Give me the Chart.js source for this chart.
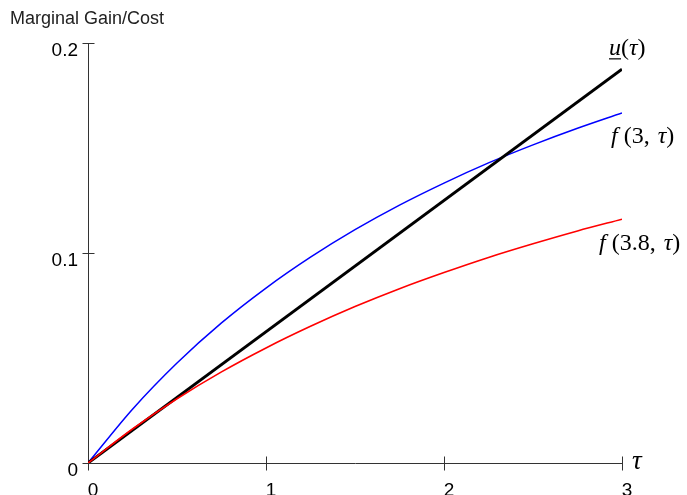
<!DOCTYPE html>
<html>
<head>
<meta charset="utf-8">
<script src="https://cdn.jsdelivr.net/npm/chart.js@4.4.1/dist/chart.umd.min.js"></script>
<style>
  html, body { margin: 0; padding: 0; background: #fff; }
</style>
</head>
<body>
<canvas id="c" width="687" height="495"></canvas>
<script>
// values
const taus = [0, 0.25, 0.5, 0.75, 1, 1.25, 1.5, 1.75, 2, 2.25, 2.5, 2.75, 3];
const gainA3 = [0, 0.0256, 0.0476, 0.0667, 0.0833, 0.0980, 0.1111, 0.1228, 0.1333, 0.1429, 0.1515, 0.1594, 0.1667];
const gainA38 = [0, 0.0162, 0.0306, 0.0434, 0.0548, 0.0651, 0.0745, 0.0830, 0.0907, 0.0979, 0.1044, 0.1105, 0.1161];
const costTaus = [0, 3];
const cost = [0, 0.1875];
const xTicks = [0, 1, 2, 3];
const yTicks = [0, 0.1, 0.2];

const pts = (xs, ys) => xs.map((x, i) => ({x: x, y: ys[i]}));

const axesPlugin = {
    id: 'axes',
    beforeDatasetsDraw(chart) {
        const ctx = chart.ctx;
        const xs = chart.scales.x, ys = chart.scales.y;
        const x0 = Math.round(xs.getPixelForValue(0)) + 0.5;
        const y0 = Math.round(ys.getPixelForValue(0)) + 0.5;
        const x1 = Math.round(xs.getPixelForValue(3)) + 0.5;
        const yTop = Math.round(ys.getPixelForValue(0.2)) + 0.5;
        ctx.save();
        ctx.strokeStyle = '#333';
        ctx.lineWidth = 1;
        ctx.beginPath();
        ctx.moveTo(x0, yTop); ctx.lineTo(x0, y0); ctx.lineTo(x1, y0);
        yTicks.forEach(v => {
            const y = Math.round(ys.getPixelForValue(v)) + 0.5;
            ctx.moveTo(x0 - 6, y); ctx.lineTo(x0 + 6, y);
        });
        xTicks.forEach(v => {
            const x = Math.round(xs.getPixelForValue(v)) + 0.5;
            ctx.moveTo(x, y0 - 7); ctx.lineTo(x, y0 + 7);
        });
        ctx.stroke();
        ctx.restore();
    },
    afterDatasetsDraw(chart) {
        const ctx = chart.ctx;
        const xs = chart.scales.x, ys = chart.scales.y;
        const xEnd = xs.getPixelForValue(3);
        ctx.save();
        ctx.fillStyle = '#222';
        ctx.font = '18px "Liberation Sans", Arial, sans-serif';
        ctx.textBaseline = 'middle';
        ctx.textAlign = 'left';
        ctx.fillText('Marginal Gain/Cost', 10, 19);

        ctx.fillStyle = '#000';
        ctx.textBaseline = 'alphabetic';
        const it = 'italic 24px "Liberation Serif", serif';
        const up = '24px "Liberation Serif", serif';
        // draws a run of [text, font, extra gap] pieces starting at x
        const run = (x, y, parts) => {
            parts.forEach(p => {
                ctx.font = p[1];
                ctx.fillText(p[0], x, y);
                x += ctx.measureText(p[0]).width + (p[2] || 0);
            });
        };
        // u(tau) with underlined u
        const uy = ys.getPixelForValue(cost[1]) - 14;
        const ux = xEnd - 13;
        ctx.font = it;
        const uw = ctx.measureText('u').width;
        run(ux, uy, [['u', it], ['(', up], ['τ', it], [')', up]]);
        ctx.fillRect(ux, uy + 3, uw, 1.2);

        run(xEnd - 11, ys.getPixelForValue(gainA3[12]) + 30, [['f', it, 6], ['(3,', up, 2], [' ', up], ['τ', it], [')', up]]);
        run(xEnd - 23, ys.getPixelForValue(gainA38[12]) + 31, [['f', it, 6], ['(3.8,', up, 2], [' ', up], ['τ', it], [')', up]]);

        ctx.font = 'italic 27px "Liberation Serif", serif';
        ctx.textBaseline = 'middle';
        ctx.fillText('τ', xEnd + 10, ys.getPixelForValue(0) - 1);
        ctx.restore();
    }
};

new Chart(document.getElementById('c'), {
    type: 'scatter',
    data: {
        datasets: [
            {label: 'f(3.8,τ)', data: pts(taus, gainA38), borderColor: '#ff0000', borderWidth: 1.6},
            {label: 'u(τ)', data: pts(costTaus, cost), borderColor: '#000000', borderWidth: 3},
            {label: 'f(3,τ)', data: pts(taus, gainA3), borderColor: '#0000ff', borderWidth: 1.5}
        ].map(d => Object.assign(d, {showLine: true, pointRadius: 0, cubicInterpolationMode: 'monotone', fill: false}))
    },
    plugins: [axesPlugin],
    options: {
        responsive: false,
        animation: false,
        devicePixelRatio: 1,
        layout: {padding: {top: 43, right: 65, left: 0, bottom: 0}},
        plugins: {legend: {display: false}, tooltip: {enabled: false}},
        scales: {
            x: {
                type: 'linear', min: 0, max: 3,
                grid: {display: false}, border: {display: false},
                ticks: {stepSize: 1, labelOffset: 5, padding: 8, color: '#000',
                        font: {family: '"Liberation Sans", Arial, sans-serif', size: 19}},
                afterFit: s => { s.height = 32; }
            },
            y: {
                min: 0, max: 0.2,
                grid: {display: false}, border: {display: false},
                ticks: {stepSize: 0.1, labelOffset: 8, padding: 2, color: '#000',
                        font: {family: '"Liberation Sans", Arial, sans-serif', size: 19}},
                afterFit: s => { s.width = 88; }
            }
        }
    }
});
</script>
</body>
</html>
